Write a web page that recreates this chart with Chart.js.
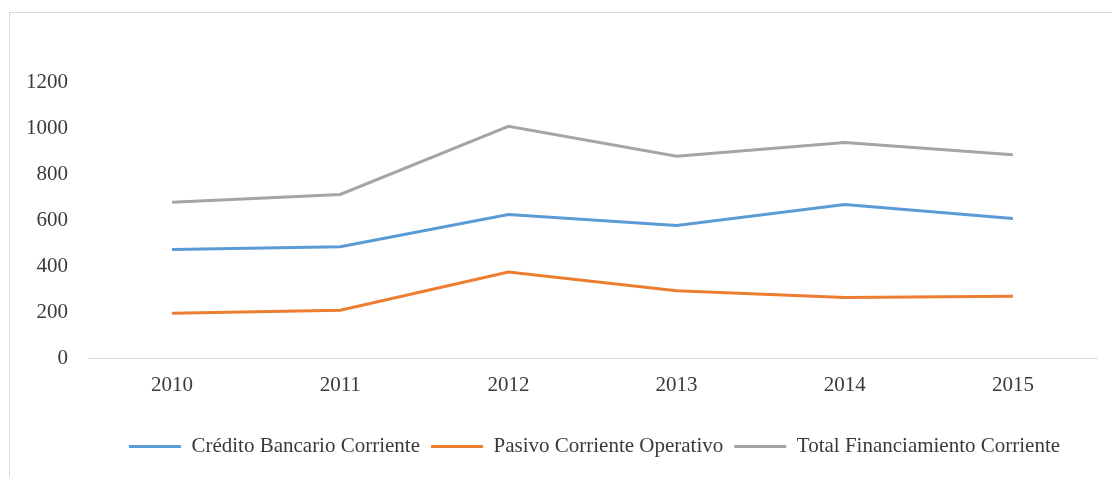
<!DOCTYPE html>
<html lang="es">
<head>
    <meta charset="UTF-8">
    <title>Financiamiento corriente 2010-2015</title>
    <script src="https://cdn.jsdelivr.net/npm/chart.js"></script>
    <style>
        html, body { margin: 0; padding: 0; background: #fff; }
        #wrap { position: relative; width: 1112px; height: 477px; overflow: hidden; }
        #frame {
            position: absolute; left: 9px; top: 12px; width: 1200px; height: 600px;
            border-left: 1px solid #d9d9d9; border-top: 1px solid #d9d9d9;
        }
        canvas { position: absolute; left: 0; top: 0; }
    </style>
</head>
<body>
    <div id="wrap">
        <div id="frame"></div>
        <canvas id="chart" width="1112" height="477"></canvas>
    </div>

    <script>
        // Datos
        const years = ['2010', '2011', '2012', '2013', '2014', '2015'];
        const creditoBancario = [472, 484, 624, 576, 667, 607];
        const pasivoOperativo = [195, 208, 374, 292, 263, 269];
        const totalFinanciamiento = [677, 711, 1007, 877, 937, 884];
        const seriesNames = ['Crédito Bancario Corriente', 'Pasivo Corriente Operativo', 'Total Financiamiento Corriente'];

        const fontFamily = '"Liberation Serif", "Times New Roman", serif';
        const textColor = '#3a3a3a';

        function serie(label, data, color) {
            return {
                label: label,
                data: data,
                borderColor: color,
                backgroundColor: color,
                borderWidth: 3,
                pointRadius: 0,
                pointHoverRadius: 0,
                pointStyle: 'line',
                tension: 0
            };
        }

        // centra la leyenda bajo el área del gráfico y no bajo todo el lienzo
        const legendUnderPlot = {
            id: 'legendUnderPlot',
            afterLayout(chart) {
                const lg = chart.legend;
                const area = chart.chartArea;
                const shift = (area.left + area.right) / 2 - (lg.left + lg.right) / 2 + 2;
                lg.left += shift;
                lg.right += shift;
            }
        };

        new Chart(document.getElementById('chart'), {
            type: 'line',
            data: {
                labels: years,
                datasets: [
                    serie(seriesNames[0], creditoBancario, '#5b9bd5'),
                    serie(seriesNames[1], pasivoOperativo, '#ed7d31'),
                    serie(seriesNames[2], totalFinanciamiento, '#a5a5a5')
                ]
            },
            options: {
                responsive: false,
                animation: false,
                layout: { padding: { top: 82, right: 15, bottom: 10, left: 0 } },
                scales: {
                    x: {
                        offset: true,
                        grid: { display: false, drawTicks: false },
                        border: { display: true, color: '#d9d9d9', width: 1 },
                        ticks: { padding: 15, color: textColor, font: { family: fontFamily, size: 21 } },
                        afterFit: (scale) => { scale.height = 67; }
                    },
                    y: {
                        min: 0,
                        max: 1200,
                        grid: { display: false, drawTicks: false },
                        border: { display: false },
                        ticks: {
                            stepSize: 200,
                            padding: 20,
                            color: textColor,
                            font: { family: fontFamily, size: 21 },
                            callback: (v) => String(v)
                        },
                        afterFit: (scale) => { scale.width = 88; }
                    }
                },
                plugins: {
                    legend: {
                        position: 'bottom',
                        labels: {
                            usePointStyle: true,
                            pointStyleWidth: 52,
                            padding: 11,
                            color: textColor,
                            font: { family: fontFamily, size: 21 }
                        }
                    },
                    tooltip: { enabled: false }
                }
            },
            plugins: [legendUnderPlot]
        });
    </script>
</body>
</html>
